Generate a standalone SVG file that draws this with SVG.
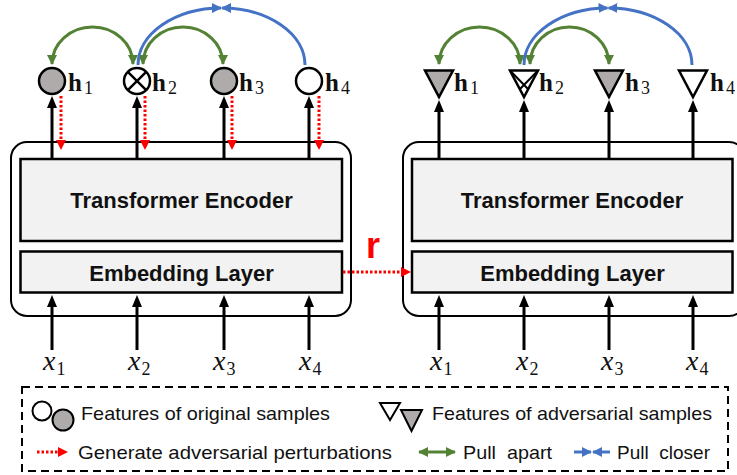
<svg xmlns="http://www.w3.org/2000/svg" width="737" height="475" viewBox="0 0 737 475">
<defs>
<style>
.outer{fill:#fff;stroke:#000;stroke-width:2}
.box{fill:#f2f2f2;stroke:#000;stroke-width:2.5}
.lbl{font-family:"Liberation Sans",Arial,sans-serif;font-weight:bold;font-size:22px;fill:#111;text-anchor:middle}
.blk{stroke:#000;stroke-width:3;fill:none}
.red{stroke:#f00;stroke-width:3;stroke-dasharray:2.5 2;fill:none}
.grn{stroke:#548235;stroke-width:3;fill:none}
.blu{stroke:#4472c4;stroke-width:3;fill:none}
.h{font-family:"Liberation Serif","Times New Roman",serif;font-weight:bold;font-size:25px;fill:#111}
.hs{font-weight:normal;font-size:18px}
.x{font-family:"Liberation Serif","Times New Roman",serif;font-style:italic;font-size:28px;fill:#111}
.xs{font-style:normal;font-size:18px}
.leg{font-family:"Liberation Sans",Arial,sans-serif;font-size:19px;fill:#111;white-space:pre}
.g{fill:#afabab;stroke:#000;stroke-width:2.5}
.w{fill:#fff;stroke:#000;stroke-width:2.5}
</style>
<marker id="ab" viewBox="0 0 12 10" refX="5" refY="5" markerWidth="12" markerHeight="10" markerUnits="userSpaceOnUse" orient="auto"><path d="M0,0L12,5L0,10z" fill="#000"/></marker>
<marker id="ar" viewBox="0 0 10 10" refX="4" refY="5" markerWidth="10" markerHeight="10" markerUnits="userSpaceOnUse" orient="auto"><path d="M0,0L10,5L0,10z" fill="#f00"/></marker>
<marker id="ag" viewBox="0 0 10 10" refX="9" refY="5" markerWidth="10" markerHeight="10" markerUnits="userSpaceOnUse" orient="auto-start-reverse"><path d="M0,0L10,5L0,10z" fill="#548235"/></marker>
<marker id="abl" viewBox="0 0 10 10" refX="9" refY="5" markerWidth="10" markerHeight="10" markerUnits="userSpaceOnUse" orient="auto"><path d="M0,0L10,5L0,10z" fill="#4472c4"/></marker>
</defs>

<g id="left-model">
<rect class="outer" x="11" y="142" width="340" height="174" rx="16"/>
<rect id="left-encoder" class="box" x="20.5" y="159" width="321.5" height="82"/>
<text class="lbl" x="181.5" y="208">Transformer Encoder</text>
<rect id="left-embedding" class="box" x="20.5" y="251.5" width="321.5" height="41"/>
<text class="lbl" x="181.5" y="281">Embedding Layer</text>
</g>

<g id="right-model">
<rect class="outer" x="403" y="142" width="342" height="174" rx="16"/>
<rect id="right-encoder" class="box" x="412" y="159" width="320.5" height="82"/>
<text class="lbl" x="572" y="208">Transformer Encoder</text>
<rect id="right-embedding" class="box" x="412" y="251.5" width="320.5" height="41"/>
<text class="lbl" x="572.5" y="281">Embedding Layer</text>
</g>

<g id="connectors">
<line class="blk" x1="52" y1="350" x2="52" y2="302" marker-end="url(#ab)"/>
<line class="blk" x1="137" y1="350" x2="137" y2="302" marker-end="url(#ab)"/>
<line class="blk" x1="224" y1="350" x2="224" y2="302" marker-end="url(#ab)"/>
<line class="blk" x1="309" y1="350" x2="309" y2="302" marker-end="url(#ab)"/>
<line class="blk" x1="439" y1="350" x2="439" y2="302" marker-end="url(#ab)"/>
<line class="blk" x1="524" y1="350" x2="524" y2="302" marker-end="url(#ab)"/>
<line class="blk" x1="609" y1="350" x2="609" y2="302" marker-end="url(#ab)"/>
<line class="blk" x1="693" y1="350" x2="693" y2="302" marker-end="url(#ab)"/>
<line class="blk" x1="52" y1="159" x2="52" y2="103" marker-end="url(#ab)"/>
<line class="blk" x1="137" y1="159" x2="137" y2="103" marker-end="url(#ab)"/>
<line class="blk" x1="224" y1="159" x2="224" y2="103" marker-end="url(#ab)"/>
<line class="blk" x1="309" y1="159" x2="309" y2="103" marker-end="url(#ab)"/>
<line class="blk" x1="439" y1="159" x2="439" y2="107" marker-end="url(#ab)"/>
<line class="blk" x1="524" y1="159" x2="524" y2="107" marker-end="url(#ab)"/>
<line class="blk" x1="609" y1="159" x2="609" y2="107" marker-end="url(#ab)"/>
<line class="blk" x1="693" y1="159" x2="693" y2="107" marker-end="url(#ab)"/>
<line class="red" x1="61" y1="96" x2="61" y2="144" marker-end="url(#ar)"/>
<line class="red" x1="145" y1="96" x2="145" y2="144" marker-end="url(#ar)"/>
<line class="red" x1="232" y1="96" x2="232" y2="144" marker-end="url(#ar)"/>
<line class="red" x1="319" y1="96" x2="319" y2="144" marker-end="url(#ar)"/>
<line class="red" x1="343" y1="272" x2="405" y2="272" marker-end="url(#ar)"/>
<path class="grn" d="M52,64 A40.5 37 0 0 1 133,64" marker-start="url(#ag)" marker-end="url(#ag)"/>
<path class="grn" d="M143,64 A40 37 0 0 1 223,64" marker-start="url(#ag)" marker-end="url(#ag)"/>
<path class="blu" d="M138,65 A83.5 57 0 0 1 221,8" marker-end="url(#abl)"/>
<path class="blu" d="M305,65 A83.5 57 0 0 0 222,8" marker-end="url(#abl)"/>
<path class="grn" d="M439,64 A40.5 37 0 0 1 520,64" marker-start="url(#ag)" marker-end="url(#ag)"/>
<path class="grn" d="M530,64 A39.5 37 0 0 1 609,64" marker-start="url(#ag)" marker-end="url(#ag)"/>
<path class="blu" d="M524,65 A84 57 0 0 1 607.5,8" marker-end="url(#abl)"/>
<path class="blu" d="M692,65 A84 57 0 0 0 608.5,8" marker-end="url(#abl)"/>
</g>

<text x="366" y="258" font-family="'Liberation Sans',Arial,sans-serif" font-weight="bold" font-size="36" fill="#f00">r</text>

<g id="h1-orig"><circle class="g" cx="52" cy="81" r="13"/><text class="h" x="68" y="91">h<tspan class="hs" dx="2" dy="3">1</tspan></text></g>
<g id="h2-orig"><circle class="w" cx="137" cy="81" r="13"/><path d="M127.8,71.8L146.2,90.2M146.2,71.8L127.8,90.2" stroke="#000" stroke-width="2.5"/><text class="h" x="152" y="91">h<tspan class="hs" dx="2" dy="3">2</tspan></text></g>
<g id="h3-orig"><circle class="g" cx="224" cy="81" r="13"/><text class="h" x="239" y="91">h<tspan class="hs" dx="2" dy="3">3</tspan></text></g>
<g id="h4-orig"><circle class="w" cx="309" cy="81" r="13"/><text class="h" x="325" y="91">h<tspan class="hs" dx="2" dy="3">4</tspan></text></g>

<g id="h1-adv"><polygon class="g" points="425,70.5 453,70.5 439,97"/><text class="h" x="454" y="91">h<tspan class="hs" dx="2" dy="3">1</tspan></text></g>
<g id="h2-adv"><polygon class="w" points="510,70.5 538,70.5 524,97"/><path d="M510,70.5L528,89M538,70.5L520,89" stroke="#000" stroke-width="2"/><text class="h" x="539" y="91">h<tspan class="hs" dx="2" dy="3">2</tspan></text></g>
<g id="h3-adv"><polygon class="g" points="595,70.5 623,70.5 609,97"/><text class="h" x="625" y="91">h<tspan class="hs" dx="2" dy="3">3</tspan></text></g>
<g id="h4-adv"><polygon class="w" points="679,70.5 707,70.5 693,97"/><text class="h" x="710" y="91">h<tspan class="hs" dx="2" dy="3">4</tspan></text></g>

<g id="inputs">
<text class="x" x="43" y="370">x<tspan class="xs" dx="1" dy="5">1</tspan></text>
<text class="x" x="128" y="370">x<tspan class="xs" dx="1" dy="5">2</tspan></text>
<text class="x" x="213" y="370">x<tspan class="xs" dx="1" dy="5">3</tspan></text>
<text class="x" x="299" y="370">x<tspan class="xs" dx="1" dy="5">4</tspan></text>
<text class="x" x="430" y="370">x<tspan class="xs" dx="1" dy="5">1</tspan></text>
<text class="x" x="516" y="370">x<tspan class="xs" dx="1" dy="5">2</tspan></text>
<text class="x" x="601" y="370">x<tspan class="xs" dx="1" dy="5">3</tspan></text>
<text class="x" x="686" y="370">x<tspan class="xs" dx="1" dy="5">4</tspan></text>
</g>

<g id="legend">
<rect x="22" y="387" width="706" height="84" fill="none" stroke="#000" stroke-width="2" stroke-dasharray="8 5"/>
<circle cx="42" cy="411" r="9.5" fill="#fff" stroke="#000" stroke-width="2"/>
<circle cx="63" cy="420" r="10.5" fill="#afabab" stroke="#000" stroke-width="2"/>
<text class="leg" x="81" y="420" textLength="249" lengthAdjust="spacingAndGlyphs">Features of original samples</text>
<polygon points="380,403 400,403 390,420" fill="#fff" stroke="#000" stroke-width="2"/>
<polygon points="401,410 422,410 411.5,431" fill="#afabab" stroke="#000" stroke-width="2"/>
<text class="leg" x="432" y="420" textLength="280" lengthAdjust="spacingAndGlyphs">Features of adversarial samples</text>
<line class="red" x1="37" y1="452" x2="62" y2="452" marker-end="url(#ar)"/>
<text class="leg" x="78" y="459" textLength="314" lengthAdjust="spacingAndGlyphs">Generate adversarial perturbations</text>
<line class="grn" x1="419" y1="452" x2="455" y2="452" marker-start="url(#ag)" marker-end="url(#ag)"/>
<text class="leg" x="463" y="459" textLength="89" lengthAdjust="spacingAndGlyphs">Pull  apart</text>
<line class="blu" x1="574" y1="452" x2="591" y2="452" marker-end="url(#abl)"/>
<line class="blu" x1="610" y1="452" x2="593" y2="452" marker-end="url(#abl)"/>
<text class="leg" x="617" y="459" textLength="93" lengthAdjust="spacingAndGlyphs">Pull  closer</text>
</g>
</svg>
